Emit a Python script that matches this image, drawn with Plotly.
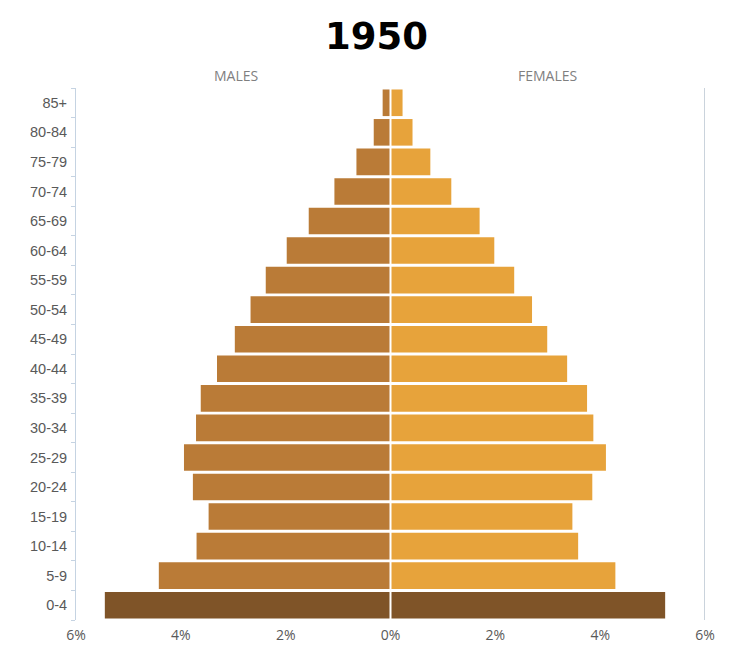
import plotly.graph_objects as go

age_groups = ["0-4", "5-9", "10-14", "15-19", "20-24", "25-29", "30-34", "35-39",
              "40-44", "45-49", "50-54", "55-59", "60-64", "65-69", "70-74", "75-79",
              "80-84", "85+"]
males = [5.45, 4.42, 3.70, 3.47, 3.77, 3.94, 3.71, 3.62, 3.31, 2.97, 2.67, 2.38,
         1.98, 1.56, 1.07, 0.65, 0.32, 0.15]
females = [5.24, 4.29, 3.58, 3.47, 3.85, 4.11, 3.87, 3.75, 3.37, 2.99, 2.70, 2.36,
           1.98, 1.70, 1.16, 0.76, 0.42, 0.23]
x_ticks = [-6, -4, -2, 0, 2, 4, 6]
x_tick_text = ["6%", "4%", "2%", "0%", "2%", "4%", "6%"]

male_color = "#BA7B37"
female_color = "#E7A33B"
base_color = "#7F5428"

male_colors = [base_color if a == "0-4" else male_color for a in age_groups]
female_colors = [base_color if a == "0-4" else female_color for a in age_groups]

fig = go.Figure()
fig.add_trace(go.Bar(y=age_groups, x=[-v for v in males], orientation="h",
                     marker=dict(color=male_colors, line=dict(width=0)),
                     name="Males", hoverinfo="y+text",
                     text=[f"{v}%" for v in males], textposition="none"))
fig.add_trace(go.Bar(y=age_groups, x=females, orientation="h",
                     marker=dict(color=female_colors, line=dict(width=0)),
                     name="Females", hoverinfo="y+text",
                     text=[f"{v}%" for v in females], textposition="none"))

PL, PR, PT, PB = 76, 31, 88, 28
W, H = 736, 648

fig.update_layout(
    width=W, height=H,
    margin=dict(l=PL, r=PR, t=PT, b=PB),
    barmode="relative", bargap=0.1,
    plot_bgcolor="white", paper_bgcolor="white",
    showlegend=False,
    font=dict(family="Liberation Sans, Arial, sans-serif", color="#595959", size=14),
)
fig.update_xaxes(range=[-6, 6], tickvals=x_ticks, ticktext=x_tick_text,
                 showgrid=False, zeroline=False, showline=False,
                 ticklabelstandoff=5, automargin=False,
                 tickfont=dict(family="Open Sans, sans-serif", size=14, color="#595959"),
                 fixedrange=True)
fig.update_yaxes(type="category", categoryorder="array", categoryarray=age_groups,
                 showgrid=False, zeroline=False, showline=True, linecolor="#C5D3E2",
                 linewidth=1, ticks="outside", ticklen=4, tickcolor="#C5D3E2",
                 tickson="boundaries", ticklabelstandoff=5, automargin=False,
                 tickfont=dict(family="Liberation Sans, Arial, sans-serif", size=14.5, color="#595959"),
                 fixedrange=True)

# right border line
fig.add_shape(type="line", xref="x", yref="paper", x0=6, x1=6, y0=0, y1=1,
              line=dict(color="#B8C4D0", width=1.5))
# white separator at zero
fig.add_shape(type="line", xref="x", yref="paper", x0=0, x1=0, y0=0, y1=1,
              line=dict(color="white", width=2), layer="above")

plot_w = W - PL - PR
plot_h = H - PT - PB
fig.add_annotation(text="<b>1950</b>",
                   x=(376 - PL) / plot_w, xref="paper",
                   y=1 + (PT - 37) / plot_h, yref="paper",
                   xanchor="center", yanchor="middle", showarrow=False,
                   font=dict(family="DejaVu Sans, sans-serif", size=37, color="#000000"))
fig.add_annotation(text="MALES", x=-2.95, xref="x",
                   y=1 + (PT - 75) / plot_h, yref="paper",
                   yanchor="middle", showarrow=False,
                   font=dict(family="Open Sans, sans-serif", size=14, color="#7F7F7F"))
fig.add_annotation(text="FEMALES", x=3.0, xref="x",
                   y=1 + (PT - 75) / plot_h, yref="paper",
                   yanchor="middle", showarrow=False,
                   font=dict(family="Open Sans, sans-serif", size=14, color="#7F7F7F"))

fig.write_html("out.html")
